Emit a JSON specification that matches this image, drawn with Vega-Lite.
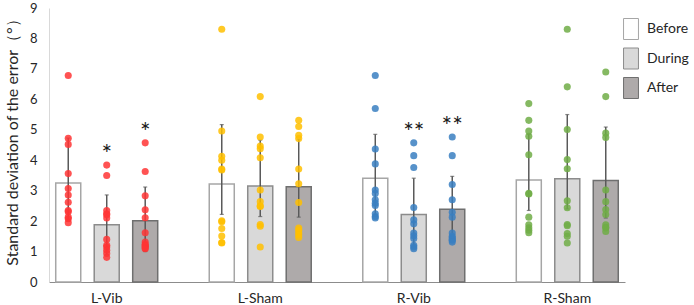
{
  "$schema": "https://vega.github.io/schema/vega-lite/v6.json",
  "width": 576,
  "height": 274,
  "autosize": {"type": "none"},
  "padding": {"left": 49, "top": 8, "right": 69, "bottom": 23},
  "background": "white",
  "config": {
    "view": {"stroke": null},
    "font": "Lato",
    "axis": {"labelColor": "#262626", "titleColor": "#262626", "grid": false, "ticks": false, "labelFont": "Lato", "titleFont": "Lato"},
    "legend": {"labelFont": "Lato"}
  },
  "datasets": {
    "summary": [
      {"group": "L-Vib", "phase": "Before", "mean": 3.25, "lo": 2.0, "hi": 4.73},
      {"group": "L-Vib", "phase": "During", "mean": 1.88, "lo": 0.9, "hi": 2.86},
      {"group": "L-Vib", "phase": "After", "mean": 2.01, "lo": 1.0, "hi": 3.12},
      {"group": "L-Sham", "phase": "Before", "mean": 3.22, "lo": 2.22, "hi": 5.17},
      {"group": "L-Sham", "phase": "During", "mean": 3.15, "lo": 2.15, "hi": 4.66},
      {"group": "L-Sham", "phase": "After", "mean": 3.13, "lo": 2.13, "hi": 4.69},
      {"group": "R-Vib", "phase": "Before", "mean": 3.41, "lo": 2.2, "hi": 4.85},
      {"group": "R-Vib", "phase": "During", "mean": 2.22, "lo": 1.1, "hi": 3.41},
      {"group": "R-Vib", "phase": "After", "mean": 2.39, "lo": 1.35, "hi": 3.47},
      {"group": "R-Sham", "phase": "Before", "mean": 3.35, "lo": 2.35, "hi": 4.85},
      {"group": "R-Sham", "phase": "During", "mean": 3.39, "lo": 2.4, "hi": 5.5},
      {"group": "R-Sham", "phase": "After", "mean": 3.33, "lo": 2.1, "hi": 5.09}
    ],
    "significance": [
      {"key": "L-Vib|During", "label": "*"},
      {"key": "L-Vib|After", "label": "*"},
      {"key": "R-Vib|During", "label": "**"},
      {"key": "R-Vib|After", "label": "**"}
    ],
    "subjects": [
      {"group": "L-Vib", "phase": "Before", "sd": 6.78}, {"group": "L-Vib", "phase": "Before", "sd": 4.72}, {"group": "L-Vib", "phase": "Before", "sd": 4.52}, {"group": "L-Vib", "phase": "Before", "sd": 3.56}, {"group": "L-Vib", "phase": "Before", "sd": 3.07}, {"group": "L-Vib", "phase": "Before", "sd": 2.86}, {"group": "L-Vib", "phase": "Before", "sd": 2.62}, {"group": "L-Vib", "phase": "Before", "sd": 2.35}, {"group": "L-Vib", "phase": "Before", "sd": 2.31}, {"group": "L-Vib", "phase": "Before", "sd": 2.13}, {"group": "L-Vib", "phase": "Before", "sd": 2.08}, {"group": "L-Vib", "phase": "Before", "sd": 1.95},
      {"group": "L-Vib", "phase": "During", "sd": 3.84}, {"group": "L-Vib", "phase": "During", "sd": 3.5}, {"group": "L-Vib", "phase": "During", "sd": 2.35}, {"group": "L-Vib", "phase": "During", "sd": 2.24}, {"group": "L-Vib", "phase": "During", "sd": 2.21}, {"group": "L-Vib", "phase": "During", "sd": 2.1}, {"group": "L-Vib", "phase": "During", "sd": 1.4}, {"group": "L-Vib", "phase": "During", "sd": 1.21}, {"group": "L-Vib", "phase": "During", "sd": 1.15}, {"group": "L-Vib", "phase": "During", "sd": 1.04}, {"group": "L-Vib", "phase": "During", "sd": 0.94}, {"group": "L-Vib", "phase": "During", "sd": 0.81},
      {"group": "L-Vib", "phase": "After", "sd": 4.57}, {"group": "L-Vib", "phase": "After", "sd": 3.63}, {"group": "L-Vib", "phase": "After", "sd": 2.83}, {"group": "L-Vib", "phase": "After", "sd": 2.37}, {"group": "L-Vib", "phase": "After", "sd": 2.11}, {"group": "L-Vib", "phase": "After", "sd": 1.62}, {"group": "L-Vib", "phase": "After", "sd": 1.31}, {"group": "L-Vib", "phase": "After", "sd": 1.24}, {"group": "L-Vib", "phase": "After", "sd": 1.2}, {"group": "L-Vib", "phase": "After", "sd": 1.17}, {"group": "L-Vib", "phase": "After", "sd": 1.12}, {"group": "L-Vib", "phase": "After", "sd": 1.09},
      {"group": "L-Sham", "phase": "Before", "sd": 8.3}, {"group": "L-Sham", "phase": "Before", "sd": 4.96}, {"group": "L-Sham", "phase": "Before", "sd": 4.13}, {"group": "L-Sham", "phase": "Before", "sd": 4.0}, {"group": "L-Sham", "phase": "Before", "sd": 3.71}, {"group": "L-Sham", "phase": "Before", "sd": 3.68}, {"group": "L-Sham", "phase": "Before", "sd": 2.01}, {"group": "L-Sham", "phase": "Before", "sd": 1.98}, {"group": "L-Sham", "phase": "Before", "sd": 1.76}, {"group": "L-Sham", "phase": "Before", "sd": 1.51}, {"group": "L-Sham", "phase": "Before", "sd": 1.3}, {"group": "L-Sham", "phase": "Before", "sd": 1.28},
      {"group": "L-Sham", "phase": "During", "sd": 6.09}, {"group": "L-Sham", "phase": "During", "sd": 4.76}, {"group": "L-Sham", "phase": "During", "sd": 4.47}, {"group": "L-Sham", "phase": "During", "sd": 4.38}, {"group": "L-Sham", "phase": "During", "sd": 4.08}, {"group": "L-Sham", "phase": "During", "sd": 3.02}, {"group": "L-Sham", "phase": "During", "sd": 2.64}, {"group": "L-Sham", "phase": "During", "sd": 2.5}, {"group": "L-Sham", "phase": "During", "sd": 2.48}, {"group": "L-Sham", "phase": "During", "sd": 1.89}, {"group": "L-Sham", "phase": "During", "sd": 1.83}, {"group": "L-Sham", "phase": "During", "sd": 1.15},
      {"group": "L-Sham", "phase": "After", "sd": 5.31}, {"group": "L-Sham", "phase": "After", "sd": 5.11}, {"group": "L-Sham", "phase": "After", "sd": 4.82}, {"group": "L-Sham", "phase": "After", "sd": 4.71}, {"group": "L-Sham", "phase": "After", "sd": 3.71}, {"group": "L-Sham", "phase": "After", "sd": 3.23}, {"group": "L-Sham", "phase": "After", "sd": 2.61}, {"group": "L-Sham", "phase": "After", "sd": 1.77}, {"group": "L-Sham", "phase": "After", "sd": 1.7}, {"group": "L-Sham", "phase": "After", "sd": 1.62}, {"group": "L-Sham", "phase": "After", "sd": 1.55}, {"group": "L-Sham", "phase": "After", "sd": 1.46},
      {"group": "R-Vib", "phase": "Before", "sd": 6.78}, {"group": "R-Vib", "phase": "Before", "sd": 5.7}, {"group": "R-Vib", "phase": "Before", "sd": 4.37}, {"group": "R-Vib", "phase": "Before", "sd": 3.88}, {"group": "R-Vib", "phase": "Before", "sd": 3.02}, {"group": "R-Vib", "phase": "Before", "sd": 2.91}, {"group": "R-Vib", "phase": "Before", "sd": 2.7}, {"group": "R-Vib", "phase": "Before", "sd": 2.59}, {"group": "R-Vib", "phase": "Before", "sd": 2.51}, {"group": "R-Vib", "phase": "Before", "sd": 2.24}, {"group": "R-Vib", "phase": "Before", "sd": 2.15}, {"group": "R-Vib", "phase": "Before", "sd": 2.1},
      {"group": "R-Vib", "phase": "During", "sd": 4.57}, {"group": "R-Vib", "phase": "During", "sd": 4.15}, {"group": "R-Vib", "phase": "During", "sd": 3.76}, {"group": "R-Vib", "phase": "During", "sd": 2.45}, {"group": "R-Vib", "phase": "During", "sd": 2.04}, {"group": "R-Vib", "phase": "During", "sd": 1.91}, {"group": "R-Vib", "phase": "During", "sd": 1.61}, {"group": "R-Vib", "phase": "During", "sd": 1.52}, {"group": "R-Vib", "phase": "During", "sd": 1.43}, {"group": "R-Vib", "phase": "During", "sd": 1.21}, {"group": "R-Vib", "phase": "During", "sd": 1.15}, {"group": "R-Vib", "phase": "During", "sd": 1.09},
      {"group": "R-Vib", "phase": "After", "sd": 4.76}, {"group": "R-Vib", "phase": "After", "sd": 4.15}, {"group": "R-Vib", "phase": "After", "sd": 3.2}, {"group": "R-Vib", "phase": "After", "sd": 2.7}, {"group": "R-Vib", "phase": "After", "sd": 2.29}, {"group": "R-Vib", "phase": "After", "sd": 2.13}, {"group": "R-Vib", "phase": "After", "sd": 1.61}, {"group": "R-Vib", "phase": "After", "sd": 1.5}, {"group": "R-Vib", "phase": "After", "sd": 1.45}, {"group": "R-Vib", "phase": "After", "sd": 1.4}, {"group": "R-Vib", "phase": "After", "sd": 1.37}, {"group": "R-Vib", "phase": "After", "sd": 1.31},
      {"group": "R-Sham", "phase": "Before", "sd": 5.86}, {"group": "R-Sham", "phase": "Before", "sd": 5.31}, {"group": "R-Sham", "phase": "Before", "sd": 4.96}, {"group": "R-Sham", "phase": "Before", "sd": 4.79}, {"group": "R-Sham", "phase": "Before", "sd": 4.18}, {"group": "R-Sham", "phase": "Before", "sd": 2.91}, {"group": "R-Sham", "phase": "Before", "sd": 2.89}, {"group": "R-Sham", "phase": "Before", "sd": 2.13}, {"group": "R-Sham", "phase": "Before", "sd": 1.88}, {"group": "R-Sham", "phase": "Before", "sd": 1.78}, {"group": "R-Sham", "phase": "Before", "sd": 1.7}, {"group": "R-Sham", "phase": "Before", "sd": 1.62},
      {"group": "R-Sham", "phase": "During", "sd": 8.3}, {"group": "R-Sham", "phase": "During", "sd": 6.41}, {"group": "R-Sham", "phase": "During", "sd": 5.01}, {"group": "R-Sham", "phase": "During", "sd": 4.02}, {"group": "R-Sham", "phase": "During", "sd": 3.72}, {"group": "R-Sham", "phase": "During", "sd": 2.67}, {"group": "R-Sham", "phase": "During", "sd": 2.44}, {"group": "R-Sham", "phase": "During", "sd": 1.89}, {"group": "R-Sham", "phase": "During", "sd": 1.85}, {"group": "R-Sham", "phase": "During", "sd": 1.59}, {"group": "R-Sham", "phase": "During", "sd": 1.5}, {"group": "R-Sham", "phase": "During", "sd": 1.28},
      {"group": "R-Sham", "phase": "After", "sd": 6.9}, {"group": "R-Sham", "phase": "After", "sd": 6.09}, {"group": "R-Sham", "phase": "After", "sd": 4.89}, {"group": "R-Sham", "phase": "After", "sd": 4.75}, {"group": "R-Sham", "phase": "After", "sd": 3.02}, {"group": "R-Sham", "phase": "After", "sd": 2.64}, {"group": "R-Sham", "phase": "After", "sd": 2.38}, {"group": "R-Sham", "phase": "After", "sd": 2.22}, {"group": "R-Sham", "phase": "After", "sd": 1.88}, {"group": "R-Sham", "phase": "After", "sd": 1.8}, {"group": "R-Sham", "phase": "After", "sd": 1.77}, {"group": "R-Sham", "phase": "After", "sd": 1.66}
    ]
  },
  "encoding": {
    "x": {
      "field": "group",
      "type": "nominal",
      "sort": ["L-Vib", "L-Sham", "R-Vib", "R-Sham"],
      "scale": {"paddingInner": 0.248, "paddingOuter": 0},
      "axis": {"title": null, "labelAngle": 0, "labelFontSize": 14, "labelPadding": 9, "domainColor": "#8c8c8c", "domainWidth": 1}
    },
    "xOffset": {
      "field": "phase",
      "type": "nominal",
      "sort": ["Before", "During", "After"],
      "scale": {"paddingInner": 0.35, "paddingOuter": 0.175}
    }
  },
  "layer": [
    {
      "data": {"name": "summary"},
      "mark": {"type": "bar", "strokeWidth": 1.5},
      "encoding": {
        "y": {
          "field": "mean",
          "type": "quantitative",
          "scale": {"domain": [0, 9], "nice": false},
          "axis": {"title": "Standard deviation of the error（°）", "titleFontSize": 16, "titleFontWeight": "normal", "titleAngle": -90, "titleAlign": "center", "titleBaseline": "middle", "titleX": -37, "titleY": 130, "values": [0, 1, 2, 3, 4, 5, 6, 7, 8, 9], "labelOverlap": false, "labelFontSize": 13, "labelPadding": 12, "domainColor": "#d9d9d9", "domainWidth": 1}
        },
        "fill": {
          "field": "phase",
          "type": "nominal",
          "sort": ["Before", "During", "After"],
          "scale": {"domain": ["Before", "During", "After"], "range": ["#ffffff", "#d9d9d9", "#aeaaaa"]},
          "legend": {
            "title": null,
            "orient": "none",
            "legendX": 571,
            "legendY": 10,
            "padding": 0,
            "symbolType": "M-0.71,-1H0.71V1H-0.71Z",
            "symbolSize": 441,
            "symbolStrokeColor": "#8c8c8c",
            "symbolStrokeWidth": 1,
            "symbolOpacity": 1,
            "labelFontSize": 14,
            "labelColor": "#262626",
            "labelOffset": 5,
            "rowPadding": 3.5
          }
        },
        "stroke": {
          "field": "phase",
          "type": "nominal",
          "scale": {"domain": ["Before", "During", "After"], "range": ["#a6a6a6", "#8c8c8c", "#6f6f6f"]},
          "legend": null
        }
      }
    },
    {
      "data": {"name": "summary"},
      "mark": {"type": "rule", "color": "#595959", "strokeWidth": 1.5},
      "encoding": {
        "y": {
          "field": "lo",
          "type": "quantitative",
          "axis": {"title": "Standard deviation of the error（°）", "titleFontSize": 16, "titleFontWeight": "normal", "titleAngle": -90, "titleAlign": "center", "titleBaseline": "middle", "titleX": -37, "titleY": 130, "values": [0, 1, 2, 3, 4, 5, 6, 7, 8, 9], "labelOverlap": false, "labelFontSize": 13, "labelPadding": 12, "domainColor": "#d9d9d9", "domainWidth": 1}
        },
        "y2": {"field": "hi"}
      }
    },
    {
      "data": {"name": "summary"},
      "mark": {"type": "tick", "color": "#595959", "size": 4, "thickness": 1.2},
      "encoding": {
        "y": {
          "field": "hi",
          "type": "quantitative",
          "axis": {"title": "Standard deviation of the error（°）", "titleFontSize": 16, "titleFontWeight": "normal", "titleAngle": -90, "titleAlign": "center", "titleBaseline": "middle", "titleX": -37, "titleY": 130, "values": [0, 1, 2, 3, 4, 5, 6, 7, 8, 9], "labelOverlap": false, "labelFontSize": 13, "labelPadding": 12, "domainColor": "#d9d9d9", "domainWidth": 1}
        }
      }
    },
    {
      "data": {"name": "summary"},
      "mark": {"type": "tick", "color": "#595959", "size": 4, "thickness": 1.2},
      "encoding": {
        "y": {
          "field": "lo",
          "type": "quantitative",
          "axis": {"title": "Standard deviation of the error（°）", "titleFontSize": 16, "titleFontWeight": "normal", "titleAngle": -90, "titleAlign": "center", "titleBaseline": "middle", "titleX": -37, "titleY": 130, "values": [0, 1, 2, 3, 4, 5, 6, 7, 8, 9], "labelOverlap": false, "labelFontSize": 13, "labelPadding": 12, "domainColor": "#d9d9d9", "domainWidth": 1}
        }
      }
    },
    {
      "data": {"name": "subjects"},
      "mark": {"type": "point", "filled": true, "size": 50, "opacity": 0.85},
      "encoding": {
        "y": {
          "field": "sd",
          "type": "quantitative",
          "axis": {"title": "Standard deviation of the error（°）", "titleFontSize": 16, "titleFontWeight": "normal", "titleAngle": -90, "titleAlign": "center", "titleBaseline": "middle", "titleX": -37, "titleY": 130, "values": [0, 1, 2, 3, 4, 5, 6, 7, 8, 9], "labelOverlap": false, "labelFontSize": 13, "labelPadding": 12, "domainColor": "#d9d9d9", "domainWidth": 1}
        },
        "color": {
          "field": "group",
          "type": "nominal",
          "scale": {"domain": ["L-Vib", "L-Sham", "R-Vib", "R-Sham"], "range": ["#ff3535", "#ffc000", "#3a7fc1", "#70ad47"]},
          "legend": null
        }
      }
    },
    {
      "data": {"name": "subjects"},
      "transform": [
        {"aggregate": [{"op": "max", "field": "sd", "as": "top"}], "groupby": ["group", "phase"]},
        {"calculate": "datum.group + '|' + datum.phase", "as": "key"},
        {"lookup": "key", "from": {"data": {"name": "significance"}, "key": "key", "fields": ["label"]}},
        {"filter": "datum.label != null"}
      ],
      "mark": {"type": "text", "fontSize": 25, "baseline": "middle", "dy": -10, "color": "#1a1a1a"},
      "encoding": {
        "y": {
          "field": "top",
          "type": "quantitative",
          "axis": {"title": "Standard deviation of the error（°）", "titleFontSize": 16, "titleFontWeight": "normal", "titleAngle": -90, "titleAlign": "center", "titleBaseline": "middle", "titleX": -37, "titleY": 130, "values": [0, 1, 2, 3, 4, 5, 6, 7, 8, 9], "labelOverlap": false, "labelFontSize": 13, "labelPadding": 12, "domainColor": "#d9d9d9", "domainWidth": 1}
        },
        "text": {"field": "label"}
      }
    }
  ]
}
